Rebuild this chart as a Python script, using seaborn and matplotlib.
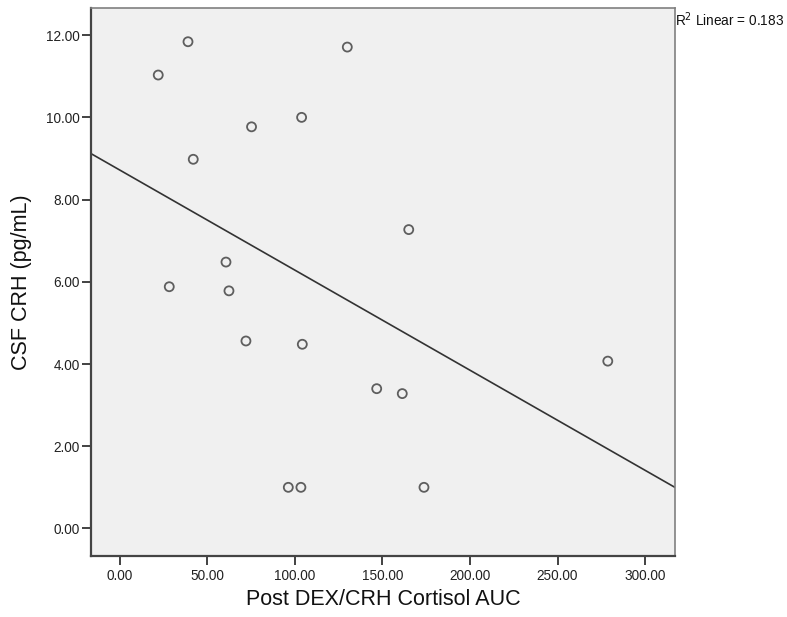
import matplotlib
matplotlib.use("Agg")
import matplotlib.pyplot as plt
import seaborn as sns
import numpy as np
import pandas as pd

cortisol_auc = [21.9, 38.9, 41.9, 75.2, 103.8, 129.9, 165.0, 60.6, 28.2, 62.3,
                72.0, 104.2, 146.7, 161.3, 278.7, 96.2, 103.4, 173.7]
csf_crh = [11.03, 11.84, 8.98, 9.77, 10.00, 11.71, 7.27, 6.48, 5.88, 5.78,
           4.56, 4.48, 3.40, 3.28, 4.07, 1.00, 1.00, 1.00]
x_ticks = [0, 50, 100, 150, 200, 250, 300]
y_ticks = [0, 2, 4, 6, 8, 10, 12]
x_label = "Post DEX/CRH Cortisol AUC"
y_label = "CSF CRH (pg/mL)"

df = pd.DataFrame({"x": cortisol_auc, "y": csf_crh})

sns.set_style("white")
plt.rcParams['font.family'] = ['Liberation Sans', 'DejaVu Sans']

fig = plt.figure(figsize=(7.87, 6.17), dpi=100)
ax = fig.add_axes([0.1152, 0.0989, 0.8577 - 0.1152, 0.987 - 0.0989])
ax.set_facecolor("#F0F0F0")
ax.set_xlim(-16.7, 317.1)
ax.set_ylim(-0.67, 12.66)

sns.regplot(data=df, x="x", y="y", ax=ax, ci=None, truncate=False,
            scatter_kws=dict(s=42, facecolors="none", edgecolors="#3a3a3a", linewidths=1.3),
            line_kws=dict(color="#333333", linewidth=1.2))
ax.set_xlim(-16.7, 317.1)
ax.set_ylim(-0.67, 12.66)

ax.set_xticks(x_ticks)
ax.set_xticklabels([f"{v:.2f}" for v in x_ticks])
ax.set_yticks(y_ticks)
ax.set_yticklabels([f"{v:.2f}" for v in y_ticks])
ax.tick_params(axis="both", direction="out", length=6.5, width=1.3, color="#333333",
               labelsize=9.8, labelcolor="#222222", pad=1.5, bottom=True, left=True)
ax.tick_params(axis="x", pad=3)
ax.set_xlabel(x_label, fontsize=15.5, color="#111111", labelpad=4)
ax.set_ylabel(y_label, fontsize=15.5, color="#111111", labelpad=10)

for side in ["left", "bottom"]:
    ax.spines[side].set_color("#444444")
    ax.spines[side].set_linewidth(1.6)
for side in ["top", "right"]:
    ax.spines[side].set_color("#808080")
    ax.spines[side].set_linewidth(1.2)

fig.text(675 / 787, 1 - 10 / 617, "R$^2$ Linear = 0.183", fontsize=9.8,
         color="#111111", ha="left", va="top")

fig.savefig("out.png", dpi=100)
